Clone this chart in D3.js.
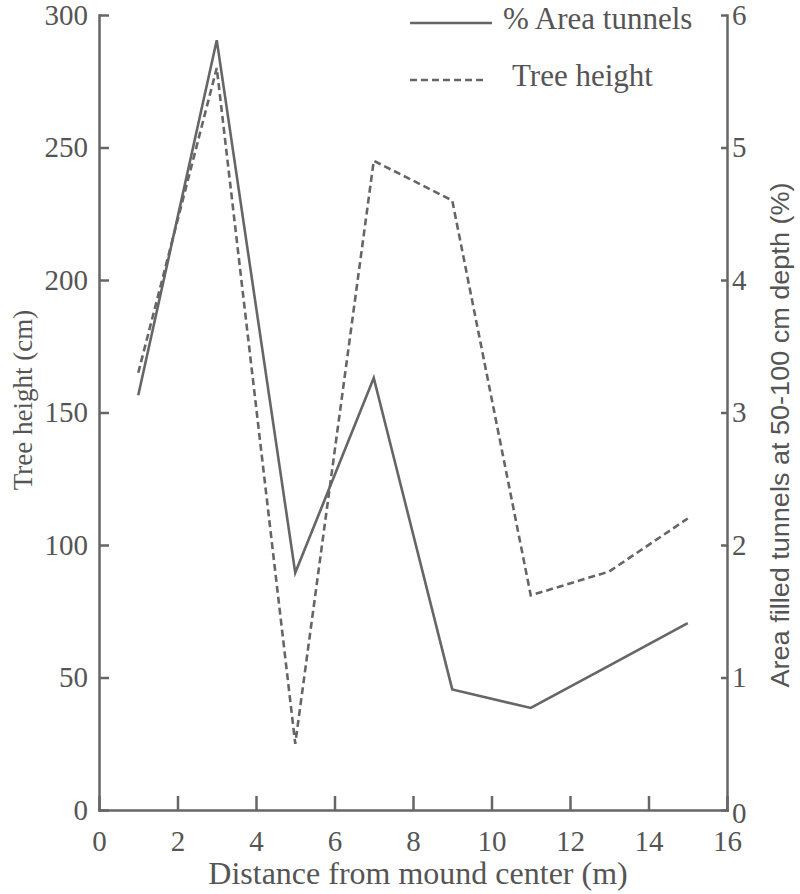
<!DOCTYPE html>
<meta charset="utf-8">
<style>
body { margin: 0; background: #fff; }
.axis text { font: 29px "Liberation Serif", serif; fill: #555; }
.axis path, .axis line { stroke: #666; stroke-width: 2.5; }
.title { font-family: "Liberation Serif", serif; fill: #555; }
</style>
<body>
<script src="https://d3js.org/d3.v7.min.js"></script>
<script>

// distance from mound center (m)
var distance = [1, 3, 5, 7, 9, 11, 13, 15];
// % area of filled tunnels at 50-100 cm depth (right axis)
var areaTunnels = [3.13, 5.81, 1.79, 3.26, 0.91, 0.77, 1.09, 1.41];
// tree height in cm (left axis)
var treeHeight = [165, 280, 25, 245, 230, 81, 90, 110];

var xTicks = [0, 2, 4, 6, 8, 10, 12, 14, 16];
var leftTicks = [0, 50, 100, 150, 200, 250, 300];
var rightTicks = [0, 1, 2, 3, 4, 5, 6];

var width = 800,
    height = 894,
    margin = {top: 15, right: 73, bottom: 84, left: 99};

var svg = d3.select("body").append("svg")
    .attr("width", width)
    .attr("height", height);

var x = d3.scaleLinear().domain([0, 16]).range([margin.left, width - margin.right]);
var yL = d3.scaleLinear().domain([0, 300]).range([height - margin.bottom, margin.top]);
var yR = d3.scaleLinear().domain([0, 6]).range([height - margin.bottom, margin.top]);

// x axis, ticks pointing up into the plot
svg.append("g")
    .attr("class", "axis")
    .attr("transform", "translate(0," + (height - margin.bottom) + ")")
    .call(d3.axisBottom(x).tickValues(xTicks).tickSizeInner(-14).tickSizeOuter(0).tickPadding(26))
    .selectAll("text").attr("dy", "0.5em");

svg.append("g")
    .attr("class", "axis")
    .attr("transform", "translate(" + margin.left + ",0)")
    .call(d3.axisLeft(yL).tickValues(leftTicks).tickSizeInner(-10).tickSizeOuter(0).tickPadding(11));

var right = svg.append("g")
    .attr("class", "axis")
    .attr("transform", "translate(" + (width - margin.right) + ",0)")
    .call(d3.axisRight(yR).tickValues(rightTicks).tickFormat(d3.format("d"))
      .tickSizeInner(-6).tickSizeOuter(0).tickPadding(5));
right.select(".tick:first-of-type text").attr("dy", "0.42em");

svg.selectAll(".axis .domain").attr("stroke-linecap", "square");

// lines
var lineArea = d3.line()
    .x(function(d, i) { return x(distance[i]); })
    .y(function(d) { return yR(d); });
var lineTree = d3.line()
    .x(function(d, i) { return x(distance[i]); })
    .y(function(d) { return yL(d); });

svg.append("path")
    .datum(areaTunnels)
    .attr("d", lineArea)
    .attr("fill", "none")
    .attr("stroke", "#666")
    .attr("stroke-width", 2.6);

svg.append("path")
    .datum(treeHeight)
    .attr("d", lineTree)
    .attr("fill", "none")
    .attr("stroke", "#666")
    .attr("stroke-width", 2.6)
    .attr("stroke-dasharray", "7,4");

// axis titles
svg.append("text")
    .attr("class", "title")
    .attr("x", 418)
    .attr("y", 884)
    .attr("text-anchor", "middle")
    .style("font-size", "32px")
    .text("Distance from mound center (m)");

svg.append("text")
    .attr("class", "title")
    .attr("transform", "translate(32,400) rotate(-90)")
    .attr("text-anchor", "middle")
    .style("font-size", "27px")
    .text("Tree height (cm)");

svg.append("text")
    .attr("transform", "translate(789,435) rotate(-90)")
    .attr("text-anchor", "middle")
    .attr("textLength", 505)
    .attr("lengthAdjust", "spacingAndGlyphs")
    .style("font-family", "'Liberation Sans Narrow', 'Liberation Sans', sans-serif")
    .style("font-size", "25px")
    .style("fill", "#555")
    .text("Area filled tunnels at 50-100 cm depth (%)");

// legend
var legend = [
  {label: "% Area tunnels", dash: null, y: 23, x1: 410, x2: 492, tx: 503},
  {label: "Tree height", dash: "7,4", y: 80, x1: 410, x2: 486, tx: 512}
];
var lg = svg.selectAll(".legend")
    .data(legend)
    .enter().append("g")
    .attr("class", "legend");
lg.append("line")
    .attr("x1", function(d) { return d.x1; })
    .attr("x2", function(d) { return d.x2; })
    .attr("y1", function(d) { return d.y; })
    .attr("y2", function(d) { return d.y; })
    .attr("stroke", "#666")
    .attr("stroke-width", 2.6)
    .attr("stroke-dasharray", function(d) { return d.dash; });
lg.append("text")
    .attr("class", "title")
    .attr("x", function(d) { return d.tx; })
    .attr("y", function(d) { return d.y + 6; })
    .style("font-size", "31px")
    .text(function(d) { return d.label; });

</script>
